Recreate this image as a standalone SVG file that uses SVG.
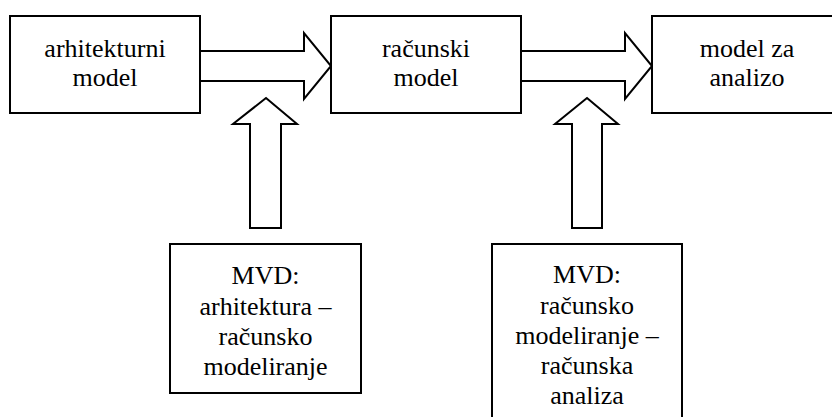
<svg xmlns="http://www.w3.org/2000/svg" width="832" height="417" viewBox="0 0 832 417">
<defs>
<style>
.box{fill:#fff;stroke:#000;stroke-width:2}
.arr{fill:#fff;stroke:#000;stroke-width:2;stroke-linejoin:miter}
</style>
</defs>
<rect width="832" height="417" fill="#fff"/>
<g id="connectors">
<polygon class="arr" points="200,51 304,51 304,33 331,66 304,99 304,81 200,81"/>
<polygon class="arr" points="521,51 625,51 625,33 652,66 625,99 625,81 521,81"/>
<polygon class="arr" points="266,98 297,124 281,124 281,228 250,228 250,124 233,124"/>
<polygon class="arr" points="587,98 618,124 602,124 602,228 572,228 572,124 555,124"/>
</g>
<g id="node-arhitekturni">
<rect class="box" x="10" y="16" width="190" height="97"/>
<text x="105" y="57" font-family="Liberation Serif, Times New Roman, serif" font-size="26" text-anchor="middle" style="font-family:'Liberation Serif',serif">arhitekturni</text>
<text x="105" y="86" font-family="Liberation Serif, Times New Roman, serif" font-size="26" text-anchor="middle" style="font-family:'Liberation Serif',serif">model</text>
</g>
<g id="node-racunski">
<rect class="box" x="331" y="16" width="190" height="97"/>
<text x="426" y="57" font-family="Liberation Serif, Times New Roman, serif" font-size="26" text-anchor="middle" style="font-family:'Liberation Serif',serif">računski</text>
<text x="426" y="86" font-family="Liberation Serif, Times New Roman, serif" font-size="26" text-anchor="middle" style="font-family:'Liberation Serif',serif">model</text>
</g>
<g id="node-analiza">
<rect class="box" x="652" y="16" width="190" height="97"/>
<text x="747" y="57" font-family="Liberation Serif, Times New Roman, serif" font-size="26" text-anchor="middle" style="font-family:'Liberation Serif',serif">model za</text>
<text x="747" y="86" font-family="Liberation Serif, Times New Roman, serif" font-size="26" text-anchor="middle" style="font-family:'Liberation Serif',serif">analizo</text>
</g>
<g id="node-mvd1">
<rect class="box" x="170" y="244" width="191" height="149"/>
<text x="265.5" y="284" font-family="Liberation Serif, Times New Roman, serif" font-size="26" text-anchor="middle" style="font-family:'Liberation Serif',serif">MVD:</text>
<text x="265.5" y="315" font-family="Liberation Serif, Times New Roman, serif" font-size="26" text-anchor="middle" style="font-family:'Liberation Serif',serif">arhitektura –</text>
<text x="265.5" y="345" font-family="Liberation Serif, Times New Roman, serif" font-size="26" text-anchor="middle" style="font-family:'Liberation Serif',serif">računsko</text>
<text x="265.5" y="375" font-family="Liberation Serif, Times New Roman, serif" font-size="26" text-anchor="middle" style="font-family:'Liberation Serif',serif">modeliranje</text>
</g>
<g id="node-mvd2">
<rect class="box" x="492" y="244" width="190" height="180"/>
<text x="587" y="283" font-family="Liberation Serif, Times New Roman, serif" font-size="26" text-anchor="middle" style="font-family:'Liberation Serif',serif">MVD:</text>
<text x="587" y="314" font-family="Liberation Serif, Times New Roman, serif" font-size="26" text-anchor="middle" style="font-family:'Liberation Serif',serif">računsko</text>
<text x="587" y="344" font-family="Liberation Serif, Times New Roman, serif" font-size="26" text-anchor="middle" style="font-family:'Liberation Serif',serif">modeliranje –</text>
<text x="587" y="374" font-family="Liberation Serif, Times New Roman, serif" font-size="26" text-anchor="middle" style="font-family:'Liberation Serif',serif">računska</text>
<text x="587" y="404" font-family="Liberation Serif, Times New Roman, serif" font-size="26" text-anchor="middle" style="font-family:'Liberation Serif',serif">analiza</text>
</g>
</svg>
